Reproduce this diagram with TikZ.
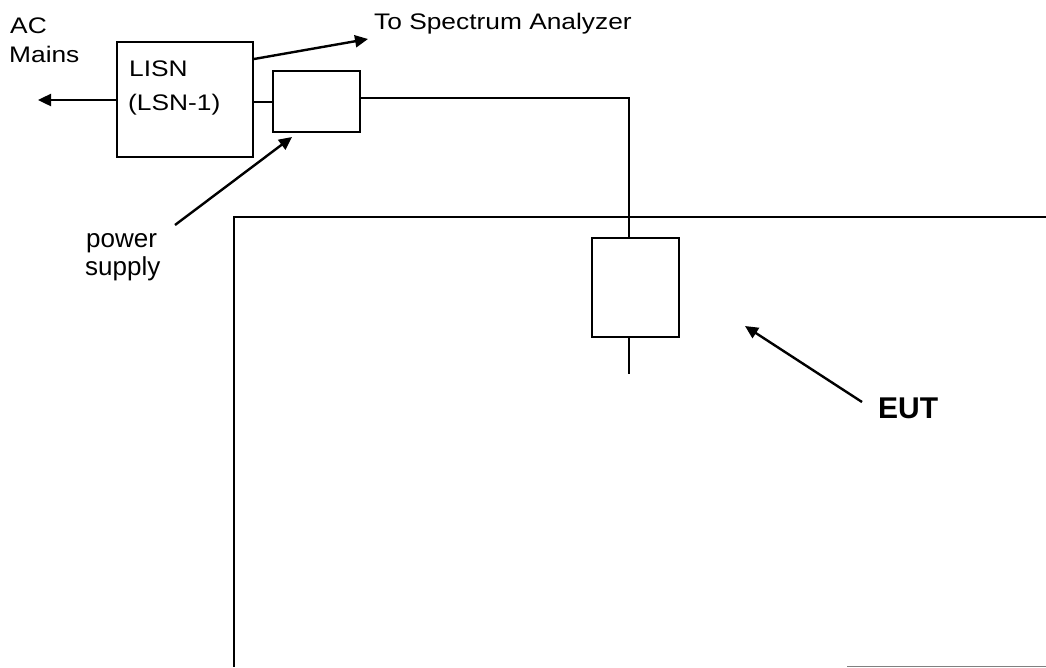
\documentclass[tikz,border=0pt]{standalone}
\usepackage{fontspec}
\setmainfont{Liberation Sans}
\usetikzlibrary{arrows.meta}
\tikzset{
  box/.style={draw, line width=2.2pt, inner sep=0pt, anchor=north west},
  wire/.style={line width=2pt},
  pointer/.style={line width=2.4pt, -{Triangle[length=13pt,width=12pt]}},
  lbl/.style={anchor=base west, inner sep=0pt, font=\fontsize{22.5}{26}\selectfont},
  lblb/.style={anchor=base west, inner sep=0pt, font=\fontsize{26}{30}\selectfont},
  lbleut/.style={anchor=base west, inner sep=0pt, font=\fontsize{30}{34}\selectfont\bfseries}
}
\newcommand{\widetxt}[1]{\scalebox{1.17}[1]{#1}}
\begin{document}
\begin{tikzpicture}[x=1pt,y=-1pt]
\useasboundingbox (0,0) rectangle (1046,667);
% boxes
\node[box, minimum width=136pt, minimum height=115pt] (lisn) at (116,41) {};
\node[box, minimum width=87pt, minimum height=61pt] (ps) at (272,70) {};
\node[box, minimum width=87pt, minimum height=99pt] (eut) at (591,237) {};
% EUT table outline
\draw[line width=2.2pt] (1046,217) -- (234,217) -- (234,667);
\draw[gray, line width=1pt] (847,666) -- (1046,666);
% coordinates
\coordinate (acend) at (38,100);
\coordinate (lisnac) at (116,100);
\coordinate (lisnsa) at (254,59);
\coordinate (saend) at (368,39);
\coordinate (pstail) at (175,225);
\coordinate (pstip) at (292,137);
\coordinate (euttail) at (862,402);
\coordinate (euttip) at (745,326);
\coordinate (corner) at (629,98);
\coordinate (stub) at (629,374);
% wires
\draw[wire] (ps.west) -- (ps.west -| lisn.east);
\draw[wire] (ps.east |- corner) -- (corner) -- (corner |- eut.north);
\draw[wire] (corner |- eut.south) -- (stub);
% arrows
\draw[pointer] (lisnac) -- (acend);
\draw[pointer] (lisnsa) -- (saend);
\draw[pointer] (pstail) -- (pstip);
\draw[pointer] (euttail) -- (euttip);
% labels
\node[lbl] (ac1) at (10,33) {\widetxt{AC}};
\node[lbl] (ac2) at (9,62) {\widetxt{Mains}};
\node[lbl] (l1) at (129,76) {\widetxt{LISN}};
\node[lbl] (l2) at (128,110) {\widetxt{(LSN-1)}};
\node[lbl] (sa) at (374,29) {\widetxt{To Spectrum Analyzer}};
\node[lblb] (p1) at (86,247) {power};
\node[lblb] (p2) at (85,275) {supply};
\node[lbleut] (eutl) at (878,418) {EUT};
\end{tikzpicture}
\end{document}
